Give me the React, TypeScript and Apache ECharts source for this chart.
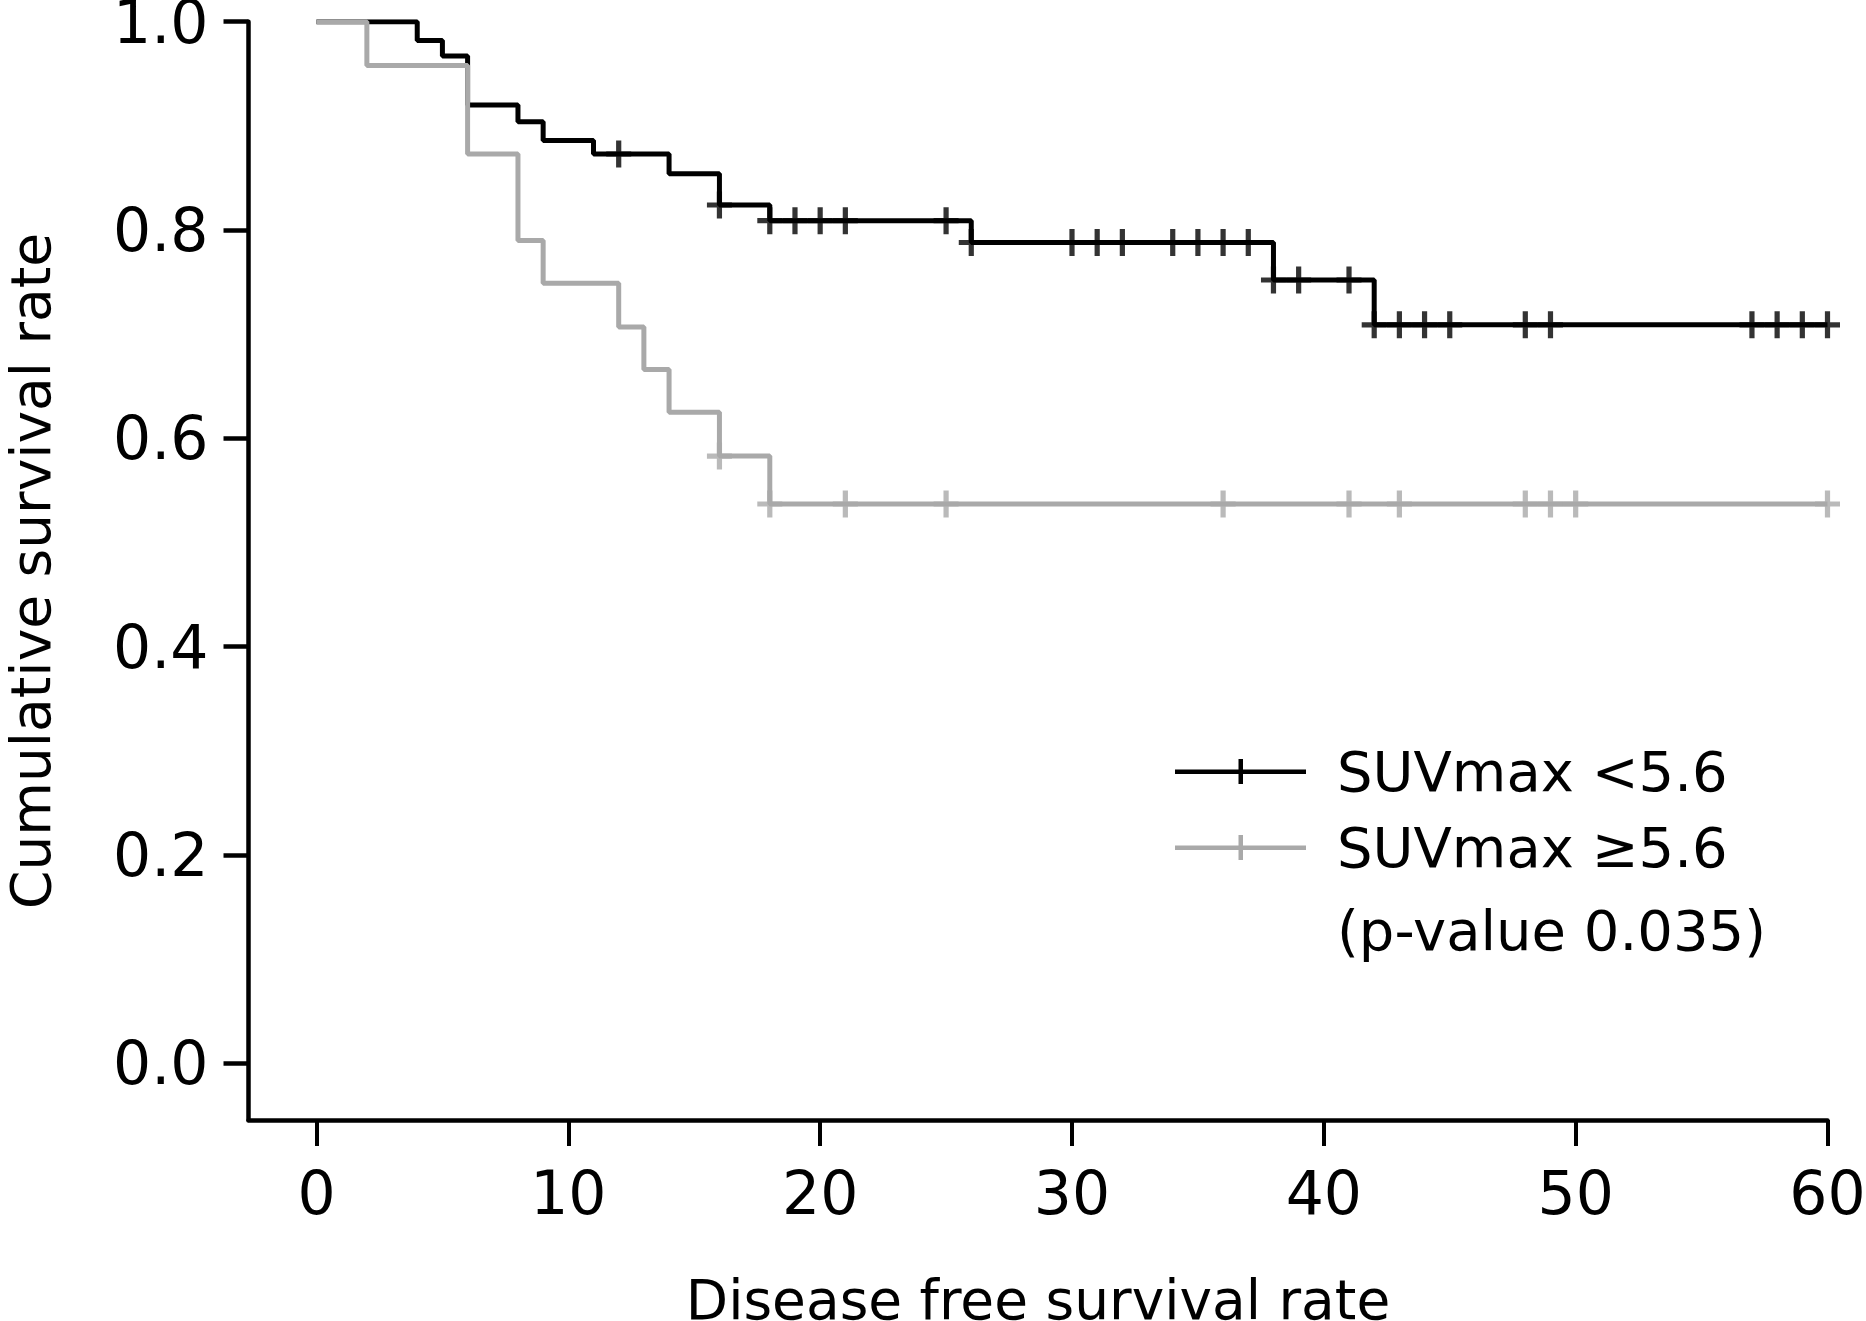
import React, { useEffect, useRef } from "react";
import * as echarts from "echarts";

// Kaplan-Meier step data
const lowTimes = [0, 4, 5, 6, 8, 9, 11, 14, 16, 18, 26, 38, 42, 60];
const lowSurv = [1, 0.982, 0.967, 0.92, 0.904, 0.886, 0.873, 0.854, 0.824, 0.809, 0.788, 0.752, 0.709, 0.709];
const lowCensor = [12, 16, 18, 19, 20, 21, 25, 26, 30, 31, 32, 34, 35, 36, 37, 38, 39, 41, 42, 43, 44, 45, 48, 49, 57, 58, 59, 60];

const highTimes = [0, 2, 6, 8, 9, 12, 13, 14, 16, 18, 60];
const highSurv = [1, 0.958, 0.873, 0.79, 0.749, 0.707, 0.666, 0.625, 0.583, 0.537, 0.537];
const highCensor = [16, 18, 21, 25, 36, 41, 43, 48, 49, 50, 60];

const xTicks = [0, 10, 20, 30, 40, 50, 60];
const yTicks = [0, 0.2, 0.4, 0.6, 0.8, 1.0];
const seriesNames = ["SUVmax <5.6", "SUVmax \u22655.6"];
const pValueText = "(p-value 0.035)";
const xTitle = "Disease free survival rate";
const yTitle = "Cumulative survival rate";

const BLACK = "#000000";
const GRAY = "#a9a9a9";
const FONT = "DejaVu Sans";

const CROSS = "path://M0,10.5h24v5h-24z M9.5,0h5v26h-5z";
const LEGEND_ICON = "path://M0,10.5h131v4.5h-131z M63.5,0h4.5v25h-4.5z";

function survAt(times: number[], surv: number[], t: number) {
  let v = surv[0];
  for (let i = 0; i < times.length; i++) {
    if (times[i] <= t) v = surv[i];
  }
  return v;
}

function stepData(times: number[], surv: number[]) {
  return times.map((t, i) => [t, surv[i]]);
}

function censorData(times: number[], surv: number[], cens: number[]) {
  return cens.map((t) => [t, survAt(times, surv, t)]);
}

export default function App() {
  const ref = useRef<HTMLDivElement>(null);
  useEffect(() => {
    if (!ref.current) return;
    const chart = echarts.init(ref.current, undefined, { renderer: "svg" });
    const option: any = {
      animation: false,
      backgroundColor: "#ffffff",
      grid: {
        left: 248.5,
        right: 38.5,
        top: 21.7,
        bottom: 201,
        containLabel: false,
        outerBoundsMode: "none",
      },
      xAxis: {
        type: "value",
        min: -2.7,
        max: 60,
        splitLine: { show: false },
        axisLine: { show: true, onZero: false, lineStyle: { color: BLACK, width: 4.5 } },
        axisTick: {
          show: true,
          customValues: xTicks,
          length: 26,
          inside: false,
          lineStyle: { color: BLACK, width: 4 },
        },
        axisLabel: {
          show: true,
          customValues: xTicks,
          margin: 43,
          color: BLACK,
          fontSize: 60,
          fontFamily: FONT,
          formatter: (v: number) => String(Math.round(v)),
        },
        name: xTitle,
        nameLocation: "middle",
        nameGap: 152,
        nameTextStyle: { color: BLACK, fontSize: 55, fontFamily: FONT },
      },
      yAxis: {
        type: "value",
        min: -0.0544,
        max: 1,
        splitLine: { show: false },
        axisLine: { show: true, onZero: false, lineStyle: { color: BLACK, width: 4.5 } },
        axisTick: {
          show: true,
          customValues: yTicks,
          length: 25,
          inside: false,
          lineStyle: { color: BLACK, width: 4.5 },
        },
        axisLabel: {
          show: true,
          customValues: yTicks,
          margin: 40,
          color: BLACK,
          fontSize: 60,
          fontFamily: FONT,
          formatter: (v: number) => v.toFixed(1),
        },
        name: yTitle,
        nameLocation: "middle",
        nameGap: 190,
        nameTextStyle: { color: BLACK, fontSize: 55, fontFamily: FONT },
      },
      legend: {
        show: true,
        orient: "vertical",
        left: 1175,
        top: 743.5,
        padding: 0,
        itemGap: 20,
        itemWidth: 131,
        itemHeight: 25,
        selectedMode: false,
        itemStyle: { borderWidth: 0 },
        textStyle: {
          color: BLACK,
          fontSize: 56,
          fontFamily: FONT,
          lineHeight: 56,
          padding: [0, 0, 0, 26],
        },
        data: [
          { name: seriesNames[0], icon: LEGEND_ICON },
          { name: seriesNames[1], icon: LEGEND_ICON },
        ],
      },
      graphic: [
        {
          type: "text",
          x: 1337,
          y: 930,
          silent: true,
          style: {
            text: pValueText,
            fill: BLACK,
            font: `56px "${FONT}"`,
            verticalAlign: "middle",
            align: "left",
          },
        },
      ],
      series: [
        {
          name: seriesNames[0],
          type: "line",
          step: "end",
          data: stepData(lowTimes, lowSurv),
          symbol: "none",
          showSymbol: false,
          silent: true,
          color: BLACK,
          itemStyle: { color: BLACK },
          lineStyle: { color: BLACK, width: 5 },
          z: 2,
        },
        {
          name: "lowCensor",
          type: "scatter",
          data: censorData(lowTimes, lowSurv, lowCensor),
          symbol: CROSS,
          symbolSize: [25, 27],
          silent: true,
          itemStyle: { color: BLACK },
          z: 2,
        },
        {
          name: seriesNames[1],
          type: "line",
          step: "end",
          data: stepData(highTimes, highSurv),
          symbol: "none",
          showSymbol: false,
          silent: true,
          color: GRAY,
          itemStyle: { color: GRAY },
          lineStyle: { color: GRAY, width: 5 },
          z: 3,
        },
        {
          name: "highCensor",
          type: "scatter",
          data: censorData(highTimes, highSurv, highCensor),
          symbol: CROSS,
          symbolSize: [25, 27],
          silent: true,
          itemStyle: { color: GRAY },
          z: 3,
        },
      ],
    };
    chart.setOption(option);
    return () => {
      chart.dispose();
    };
  }, []);
  return (
    <div
      ref={ref}
      style={{ position: "fixed", left: 0, top: 0, width: 1866, height: 1321, background: "#fff" }}
    />
  );
}
